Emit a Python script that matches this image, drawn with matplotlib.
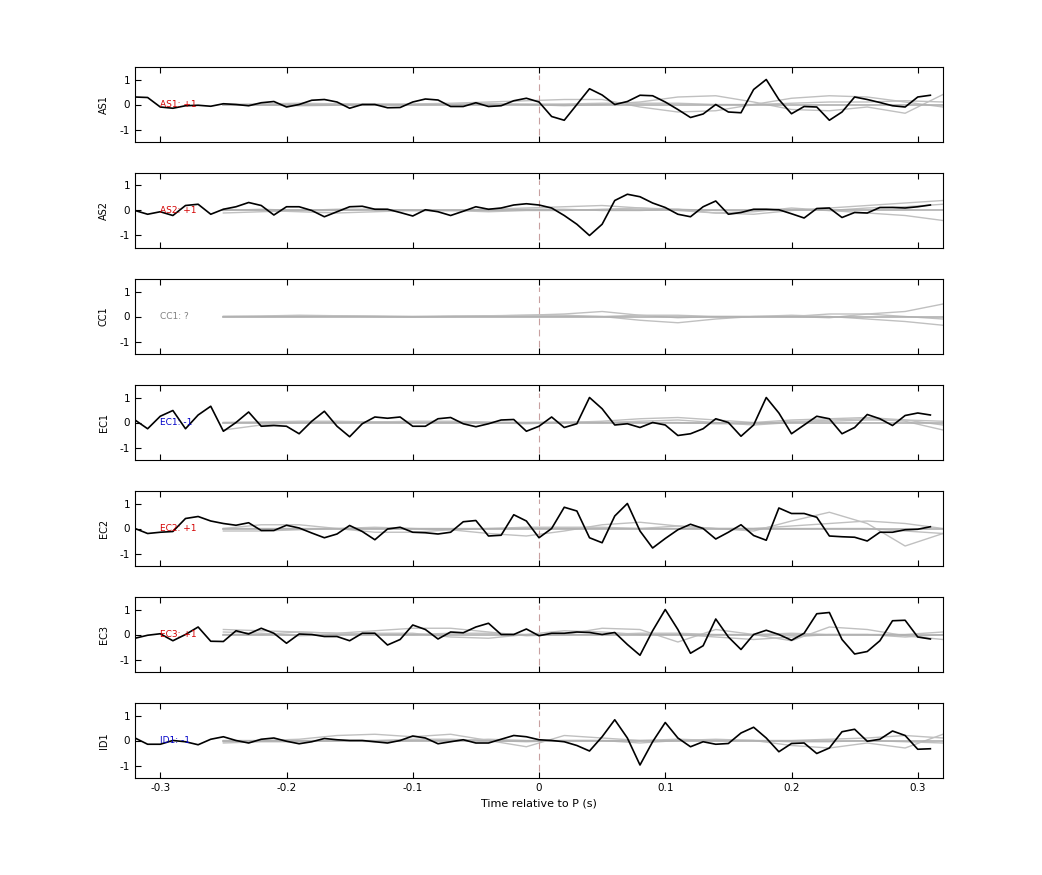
import numpy as np
import matplotlib.pyplot as plt

plt.rcParams["font.family"] = ["DejaVu Sans"]

STATIONS = ["AS1", "AS2", "CC1", "EC1", "EC2", "EC3", "ID1"]
LABELS = ["AS1: +1", "AS2: +1", "CC1: ?", "EC1: -1", "EC2: +1", "EC3: +1", "ID1: -1"]
LABEL_COLORS = ["#d40000", "#d40000", "#808080", "#0000c8", "#d40000", "#d40000", "#0000c8"]

# black trace sampled every 0.01 s from -0.32 to 0.31
t_trace = np.round(np.arange(-0.32, 0.315, 0.01), 2)
AS1 = [0.3, 0.28, -0.1, -0.15, -0.05, -0.03, -0.07, 0.03, 0.0, -0.05, 0.07, 0.12, -0.1, 0.0, 0.17, 0.2,
       0.1, -0.15, 0.0, 0.0, -0.13, -0.12, 0.1, 0.22, 0.18, -0.08, -0.08, 0.07, -0.08, -0.05, 0.15, 0.25,
       0.1, -0.48, -0.63, 0.0, 0.63, 0.38, 0.0, 0.12, 0.37, 0.35, 0.1, -0.2, -0.52, -0.38, 0.0, -0.3,
       -0.33, 0.6, 1.0, 0.2, -0.37, -0.08, -0.1, -0.63, -0.3, 0.3, 0.2, 0.08, -0.05, -0.1, 0.3, 0.37]
AS2 = [0.0, -0.15, -0.05, -0.2, 0.2, 0.25, -0.15, 0.05, 0.15, 0.32, 0.2, -0.18, 0.15, 0.15, 0.0, -0.25,
       -0.05, 0.15, 0.17, 0.05, 0.05, -0.08, -0.22, 0.03, -0.05, -0.2, -0.03, 0.15, 0.05, 0.1, 0.22, 0.27,
       0.22, 0.1, -0.2, -0.55, -1.0, -0.55, 0.4, 0.65, 0.55, 0.3, 0.12, -0.15, -0.25, 0.15, 0.38, -0.15,
       -0.08, 0.05, 0.05, 0.03, -0.13, -0.3, 0.08, 0.1, -0.28, -0.08, -0.1, 0.12, 0.12, 0.1, 0.15, 0.22]
EC1 = [0.1, -0.25, 0.25, 0.48, -0.25, 0.3, 0.65, -0.35, 0.0, 0.42, -0.15, -0.12, -0.15, -0.45, 0.05, 0.45,
       -0.15, -0.57, -0.05, 0.22, 0.17, 0.22, -0.15, -0.15, 0.15, 0.2, -0.05, -0.17, -0.05, 0.1, 0.12, -0.35,
       -0.15, 0.22, -0.2, -0.05, 1.0, 0.55, -0.1, -0.05, -0.2, 0.0, -0.1, -0.52, -0.45, -0.25, 0.15, 0.0,
       -0.55, -0.1, 1.0, 0.38, -0.45, -0.1, 0.25, 0.15, -0.45, -0.2, 0.32, 0.15, -0.12, 0.28, 0.38, 0.3]
EC2 = [0.0, -0.2, -0.15, -0.12, 0.4, 0.48, 0.3, 0.2, 0.13, 0.23, -0.08, -0.08, 0.13, 0.02, -0.18, -0.37,
       -0.22, 0.12, -0.12, -0.45, -0.02, 0.05, -0.15, -0.17, -0.22, -0.15, 0.27, 0.32, -0.3, -0.27, 0.55, 0.3,
       -0.37, 0.0, 0.85, 0.7, -0.37, -0.57, 0.5, 1.0, -0.1, -0.78, -0.4, -0.05, 0.17, 0.0, -0.42, -0.15,
       0.15, -0.28, -0.47, 0.82, 0.6, 0.6, 0.45, -0.3, -0.33, -0.35, -0.5, -0.15, -0.15, -0.05, -0.03, 0.07]
EC3 = [-0.15, -0.03, 0.03, -0.25, 0.0, 0.3, -0.27, -0.28, 0.15, 0.02, 0.25, 0.05, -0.35, 0.02, 0.0, -0.08,
       -0.08, -0.25, 0.05, 0.05, -0.42, -0.2, 0.38, 0.2, -0.18, 0.1, 0.07, 0.3, 0.45, 0.0, 0.0, 0.22,
       -0.05, 0.05, 0.05, 0.1, 0.08, 0.0, 0.08, -0.4, -0.83, 0.15, 1.0, 0.2, -0.75, -0.45, 0.62, -0.1,
       -0.6, 0.0, 0.17, 0.0, -0.23, 0.05, 0.83, 0.88, -0.2, -0.78, -0.68, -0.25, 0.55, 0.57, -0.1, -0.18]
ID1 = [0.1, -0.15, -0.15, 0.0, -0.05, -0.17, 0.05, 0.15, 0.0, -0.1, 0.05, 0.1, -0.03, -0.13, -0.05, 0.08,
       0.03, 0.0, 0.0, -0.05, -0.1, 0.0, 0.18, 0.1, -0.13, -0.05, 0.03, -0.1, -0.1, 0.05, 0.2, 0.15,
       0.03, 0.0, -0.05, -0.2, -0.42, 0.15, 0.83, 0.1, -0.98, -0.05, 0.72, 0.1, -0.25, -0.05, -0.15, -0.12,
       0.3, 0.53, 0.1, -0.45, -0.12, -0.1, -0.52, -0.3, 0.35, 0.45, -0.03, 0.05, 0.38, 0.2, -0.35, -0.33]
TRACES = [AS1, AS2, None, EC1, EC2, EC3, ID1]

# grey synthetic traces sampled every 0.03 s from -0.25 to 0.32
t_synth = np.round(np.arange(-0.25, 0.33, 0.03), 2)
SYNTH = [
    [[0.0, 0.02, 0.05, 0.03, 0.0, 0.02, 0.05, 0.1, 0.15, 0.2, 0.2, -0.1, -0.3, -0.25, 0.0, 0.25, 0.35, 0.3, 0.1, -0.1],
     [0.0, -0.02, -0.05, -0.03, 0.0, 0.0, 0.02, 0.05, 0.0, -0.05, 0.0, 0.1, 0.3, 0.35, 0.1, -0.2, -0.25, -0.1, -0.35, 0.4],
     [0.0, 0.0, 0.0, 0.02, 0.02, 0.0, 0.0, 0.0, 0.02, 0.02, 0.05, 0.05, 0.05, 0.0, 0.0, 0.05, 0.1, 0.1, 0.15, 0.1]],
    [[-0.1, -0.05, 0.0, 0.05, 0.05, 0.0, 0.0, 0.05, 0.1, 0.15, 0.2, 0.1, 0.0, -0.1, -0.15, 0.0, 0.1, 0.2, 0.3, 0.4],
     [0.05, 0.0, -0.05, -0.1, -0.05, 0.0, 0.0, -0.05, 0.0, 0.0, 0.05, 0.1, 0.05, -0.1, -0.05, 0.1, 0.0, -0.1, -0.2, -0.4],
     [0.0, 0.05, 0.0, 0.0, 0.05, 0.0, 0.0, 0.0, 0.05, 0.05, 0.0, 0.0, 0.05, 0.0, 0.0, 0.05, 0.0, 0.1, 0.15, 0.25]],
    [[0.0, 0.0, 0.02, 0.02, 0.0, 0.0, 0.02, 0.03, 0.05, 0.1, 0.2, 0.05, -0.05, 0.0, 0.0, 0.0, -0.05, 0.1, 0.2, 0.5],
     [0.0, 0.02, 0.05, 0.03, 0.0, -0.02, 0.0, 0.02, 0.05, 0.05, 0.0, -0.15, -0.25, -0.1, 0.0, 0.05, 0.0, -0.1, -0.2, -0.35],
     [0.0, 0.0, 0.0, 0.02, 0.02, 0.0, 0.0, 0.0, 0.0, 0.0, 0.0, 0.05, 0.05, 0.0, 0.0, 0.0, 0.1, 0.1, 0.0, -0.1]],
    [[-0.3, -0.1, 0.0, 0.0, 0.02, 0.05, 0.05, 0.02, 0.0, 0.0, 0.05, 0.15, 0.2, 0.1, 0.0, 0.1, 0.15, 0.2, 0.1, 0.05],
     [0.0, 0.02, 0.05, 0.05, 0.02, 0.0, 0.0, -0.02, 0.0, 0.02, 0.0, 0.05, 0.1, 0.0, -0.1, 0.0, 0.1, 0.15, 0.05, -0.3],
     [0.0, 0.0, 0.0, 0.0, 0.02, 0.0, 0.0, 0.0, -0.05, 0.0, 0.0, 0.0, 0.0, -0.05, -0.05, 0.05, 0.05, 0.1, 0.1, -0.1]],
    [[0.0, 0.15, 0.15, 0.0, -0.15, -0.15, -0.05, -0.2, -0.3, -0.1, 0.15, 0.25, 0.1, 0.0, -0.1, 0.3, 0.65, 0.2, -0.7, -0.2],
     [-0.1, -0.1, -0.05, 0.0, 0.05, 0.0, -0.05, 0.0, 0.05, 0.05, 0.05, 0.0, 0.1, 0.0, 0.0, 0.1, 0.2, 0.3, 0.2, 0.0],
     [0.0, 0.0, 0.0, 0.0, 0.0, 0.0, 0.0, 0.0, 0.0, 0.0, 0.0, 0.0, 0.0, 0.0, 0.0, 0.0, 0.0, 0.0, -0.1, -0.2]],
    [[0.2, 0.15, 0.1, 0.05, 0.15, 0.25, 0.25, 0.1, -0.05, 0.0, 0.25, 0.2, -0.3, 0.2, 0.0, -0.25, 0.3, 0.2, -0.05, -0.2],
     [0.1, 0.05, -0.05, 0.0, 0.05, 0.05, -0.1, -0.15, 0.0, 0.15, 0.1, 0.0, 0.0, -0.1, -0.2, -0.1, 0.0, 0.0, 0.0, 0.1],
     [0.0, 0.0, 0.1, 0.05, 0.0, 0.0, 0.05, 0.05, 0.0, 0.0, 0.0, 0.05, 0.05, 0.0, 0.0, 0.05, 0.0, 0.0, -0.1, 0.0]],
    [[-0.05, 0.0, 0.05, 0.2, 0.25, 0.15, 0.25, 0.0, -0.25, 0.2, 0.1, 0.0, 0.05, 0.0, 0.0, -0.2, -0.3, -0.1, -0.3, 0.25],
     [0.0, 0.0, 0.0, 0.0, -0.05, 0.0, 0.0, 0.05, 0.0, 0.0, 0.0, -0.1, 0.0, 0.05, 0.0, 0.0, 0.05, 0.1, 0.2, 0.1],
     [-0.1, -0.05, -0.05, 0.0, 0.0, 0.05, 0.05, 0.0, -0.05, 0.0, 0.0, 0.0, 0.0, 0.0, 0.0, -0.05, -0.05, 0.0, -0.05, -0.1]],
]

X_TICKS = [-0.3, -0.2, -0.1, 0, 0.1, 0.2, 0.3]
X_TICK_LABELS = ["-0.3", "-0.2", "-0.1", "0", "0.1", "0.2", "0.3"]


def main() -> None:
    fig = plt.figure(figsize=(10.42, 8.75), dpi=100)
    W, H = 1042, 875
    left, right = 135, 943
    for i, name in enumerate(STATIONS):
        top = 67 + i * 106
        ax = fig.add_axes([left / W, 1 - (top + 75) / H, (right - left) / W, 75 / H])
        for synth in SYNTH[i]:
            ax.plot(t_synth, synth, color="#c0c0c0", linewidth=1)
        ax.axhline(0, color="#b0b0b0", linewidth=1.2, xmin=(-0.25 + 0.32) / 0.64)
        ax.plot([0, 0], [-1.2, 1.2], color="#c8a0a0", linewidth=0.8, linestyle=(0, (6, 4)))
        if TRACES[i] is not None:
            ax.plot(t_trace, TRACES[i], color="black", linewidth=1.2)
        ax.text(-0.3, 0, LABELS[i], color=LABEL_COLORS[i], fontsize=6.5, va="center")
        ax.set_xlim(-0.32, 0.32)
        ax.set_ylim(-1.5, 1.5)
        ax.set_yticks([-1, 0, 1])
        ax.set_yticklabels(["-1", "0", "1"])
        ax.set_xticks(X_TICKS)
        ax.set_ylabel(name, fontsize=7, labelpad=8)
        ax.tick_params(direction="in", top=True, right=False, labelsize=7.5, length=4)
        if i < len(STATIONS) - 1:
            ax.set_xticklabels([])
        else:
            ax.set_xticklabels(X_TICK_LABELS)
            ax.set_xlabel("Time relative to P (s)", fontsize=8)
    fig.savefig("out.png", dpi=100)
    plt.close(fig)


if __name__ == "__main__":
    main()
